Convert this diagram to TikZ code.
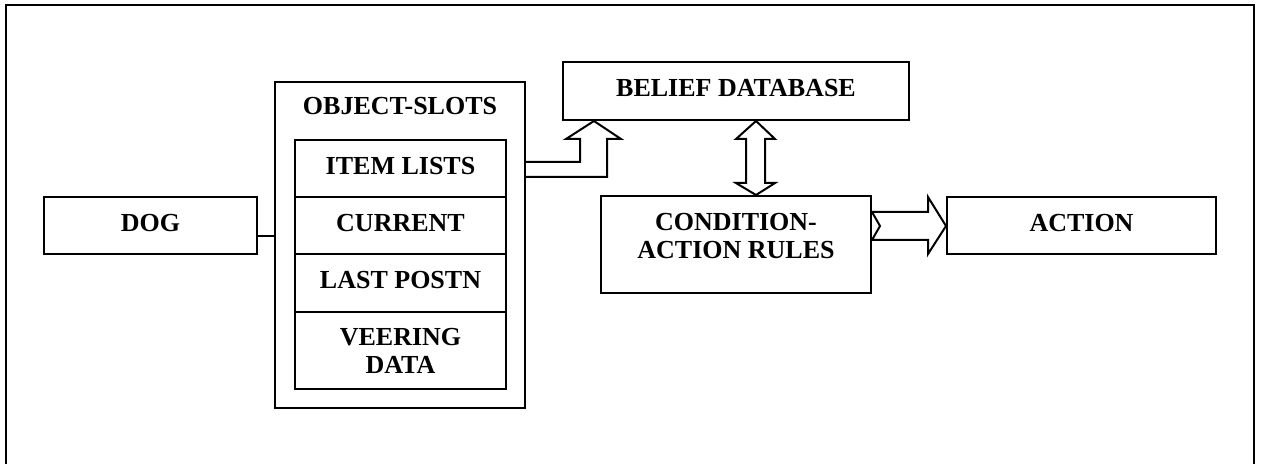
\documentclass[tikz,border=0pt]{standalone}
\usepackage{fontspec}
\setmainfont{Liberation Serif}
\begin{document}
\begin{tikzpicture}[x=0.5pt,y=-0.5pt,
  box/.style={draw,line width=1pt,inner sep=0pt,font=\fontsize{13}{14}\selectfont\bfseries,text depth=3pt},
  txt/.style={inner sep=0pt,font=\fontsize{13}{14}\selectfont\bfseries,align=center},
  harrow/.style={draw,line width=1pt,fill=white,line join=miter},
  conn/.style={draw,line width=1pt}]
\useasboundingbox (0,0) rectangle (1261,464);
% outer frame (open at the bottom)
\draw[line width=1.2pt] (6,480) -- (6,5) -- (1254,5) -- (1254,480);
% nodes
\node[box,minimum width=106.5pt,minimum height=28.5pt] (dog) at (150.5,225.5) {DOG};
\node[box,minimum width=125pt,minimum height=163pt] (obj) at (400,245) {};
\node[txt] (objt) at (400,106.5) {OBJECT-SLOTS};
\node[box,minimum width=105.5pt,minimum height=28.5pt] (items) at (400.5,168.5) {ITEM LISTS};
\node[box,minimum width=105.5pt,minimum height=28.5pt] (cur) at (400.5,225.5) {CURRENT};
\node[box,minimum width=105.5pt,minimum height=29pt] (last) at (400.5,283) {LAST POSTN};
\node[box,minimum width=105.5pt,minimum height=38.5pt,text depth=,align=center] (veer) at (400.5,350.5) {VEERING\\DATA};
\node[box,minimum width=173pt,minimum height=29pt] (bel) at (736,91) {BELIEF DATABASE};
\node[box,minimum width=135pt,minimum height=48.5pt] (cond) at (736,244.5) {};
\node[txt] (condt) at (736,236.5) {CONDITION-\\ACTION RULES};
\node[box,minimum width=134.5pt,minimum height=28.5pt] (act) at (1081.5,225.5) {ACTION};
% connector dog -> object slots
\coordinate (j) at (275,236);
\draw[conn] (dog.east |- j) -- (obj.west |- j);
% bent block arrow object slots -> belief database
\draw[harrow] (obj.east |- 0,162) -- (580,162) -- (580,139) -- (566,139) -- (bel.south -| 594,0)
  -- (621,139) -- (607,139) -- (607,177) -- (obj.east |- 0,177);
% double block arrow belief <-> condition
\draw[harrow] (bel.south -| 756,0) -- (775,139) -- (765,139) -- (765,183) -- (775,183)
  -- (cond.north -| 756,0) -- (736,183) -- (746,183) -- (746,139) -- (736,139) -- cycle;
% notched block arrow condition -> action
\draw[harrow] (cond.east |- 0,212) -- (928,212) -- (928,197) -- (act.west |- 0,226)
  -- (928,254) -- (928,240) -- (cond.east |- 0,240) -- (880,226) -- cycle;
\end{tikzpicture}
\end{document}
